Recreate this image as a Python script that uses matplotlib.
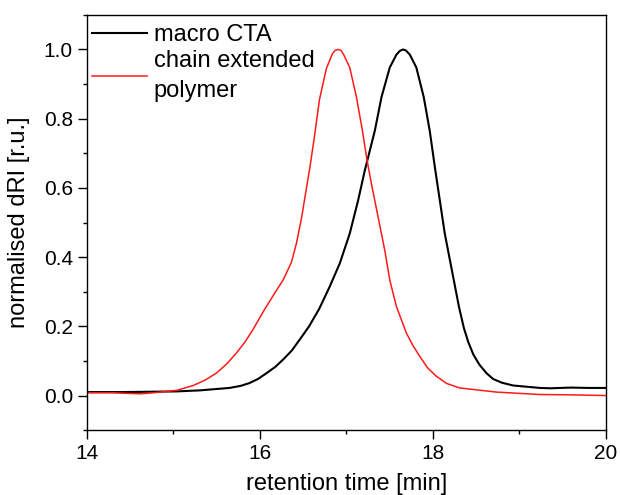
import matplotlib
matplotlib.use("Agg")
import matplotlib.pyplot as plt
from matplotlib.ticker import MultipleLocator

# macro CTA trace (retention time [min], normalised dRI)
CTA_TIME = [14.0, 14.4, 14.73, 15.04, 15.31, 15.65, 15.78, 15.88, 15.98, 16.08, 16.18,
            16.27, 16.37, 16.46, 16.57, 16.686, 16.809, 16.925, 17.04, 17.137, 17.214,
            17.33, 17.407, 17.503, 17.58, 17.62, 17.657, 17.69, 17.735, 17.81, 17.896,
            17.965, 18.03, 18.06, 18.139, 18.228, 18.304, 18.36, 18.41, 18.47, 18.54,
            18.62, 18.697, 18.8, 18.93, 19.24, 19.36, 19.6, 19.8, 20.0]
CTA_DRI = [0.010, 0.010, 0.011, 0.012, 0.015, 0.022, 0.028, 0.036, 0.048, 0.065, 0.083,
           0.104, 0.130, 0.161, 0.200, 0.250, 0.315, 0.382, 0.468, 0.564, 0.650,
           0.765, 0.862, 0.948, 0.985, 0.996, 1.000, 0.997, 0.985, 0.948, 0.862,
           0.765, 0.650, 0.600, 0.468, 0.353, 0.255, 0.195, 0.155, 0.118, 0.089,
           0.065, 0.048, 0.037, 0.029, 0.022, 0.021, 0.023, 0.022, 0.022]

# chain extended polymer trace
EXT_TIME = [14.0, 14.3, 14.61, 14.73, 15.04, 15.23, 15.37, 15.5, 15.62, 15.73, 15.83,
            15.92, 16.058, 16.173, 16.27, 16.366, 16.424, 16.482, 16.53, 16.58, 16.63,
            16.69, 16.77, 16.84, 16.87, 16.905, 16.94, 16.97, 17.04, 17.118, 17.187,
            17.24, 17.30, 17.368, 17.445, 17.503, 17.58, 17.696, 17.77, 17.85, 17.94,
            18.04, 18.16, 18.31, 18.736, 19.24, 19.6, 20.0]
EXT_DRI = [0.008, 0.008, 0.005, 0.007, 0.015, 0.029, 0.045, 0.065, 0.092, 0.123, 0.155,
           0.190, 0.250, 0.296, 0.334, 0.385, 0.440, 0.512, 0.585, 0.660, 0.745,
           0.855, 0.945, 0.988, 0.997, 1.000, 0.997, 0.985, 0.948, 0.862, 0.765,
           0.680, 0.600, 0.516, 0.420, 0.334, 0.257, 0.180, 0.145, 0.113, 0.080,
           0.056, 0.035, 0.022, 0.010, 0.003, 0.002, 0.000]

LABELS = ["macro CTA", "chain extended\npolymer"]

plt.rcParams["font.family"] = ["Liberation Sans", "DejaVu Sans"]

fig = plt.figure(figsize=(6.2, 4.95), dpi=100)
ax = fig.add_axes([0.140, 0.131, 0.837, 0.839])

ax.plot(CTA_TIME, CTA_DRI, color="black", lw=1.5, label=LABELS[0])
ax.plot(EXT_TIME, EXT_DRI, color="#ff1a1a", lw=1.1, label=LABELS[1])

ax.set_xlim(14, 20)
ax.set_ylim(-0.1, 1.1)
ax.xaxis.set_major_locator(MultipleLocator(2))
ax.xaxis.set_minor_locator(MultipleLocator(1))
ax.yaxis.set_major_locator(MultipleLocator(0.2))
ax.yaxis.set_minor_locator(MultipleLocator(0.1))
ax.yaxis.set_major_formatter(plt.FormatStrFormatter("%.1f"))

ax.tick_params(which="major", direction="out", length=6.5, width=1, labelsize=15)
ax.tick_params(which="minor", direction="out", length=3, width=1)
for s in ax.spines.values():
    s.set_linewidth(1)

ax.set_xlabel("retention time [min]", fontsize=17, labelpad=7)
ax.set_ylabel("normalised dRI [r.u.]", fontsize=17, labelpad=10)

leg = ax.legend(loc="upper left", bbox_to_anchor=(0.006, 0.983), frameon=False,
                fontsize=17, handlelength=2.3, handletextpad=0.3, borderaxespad=0,
                borderpad=0.1, labelspacing=0.15)
for t in leg.get_texts():
    t.set_linespacing(1.5)

fig.savefig("out.png", dpi=100)
